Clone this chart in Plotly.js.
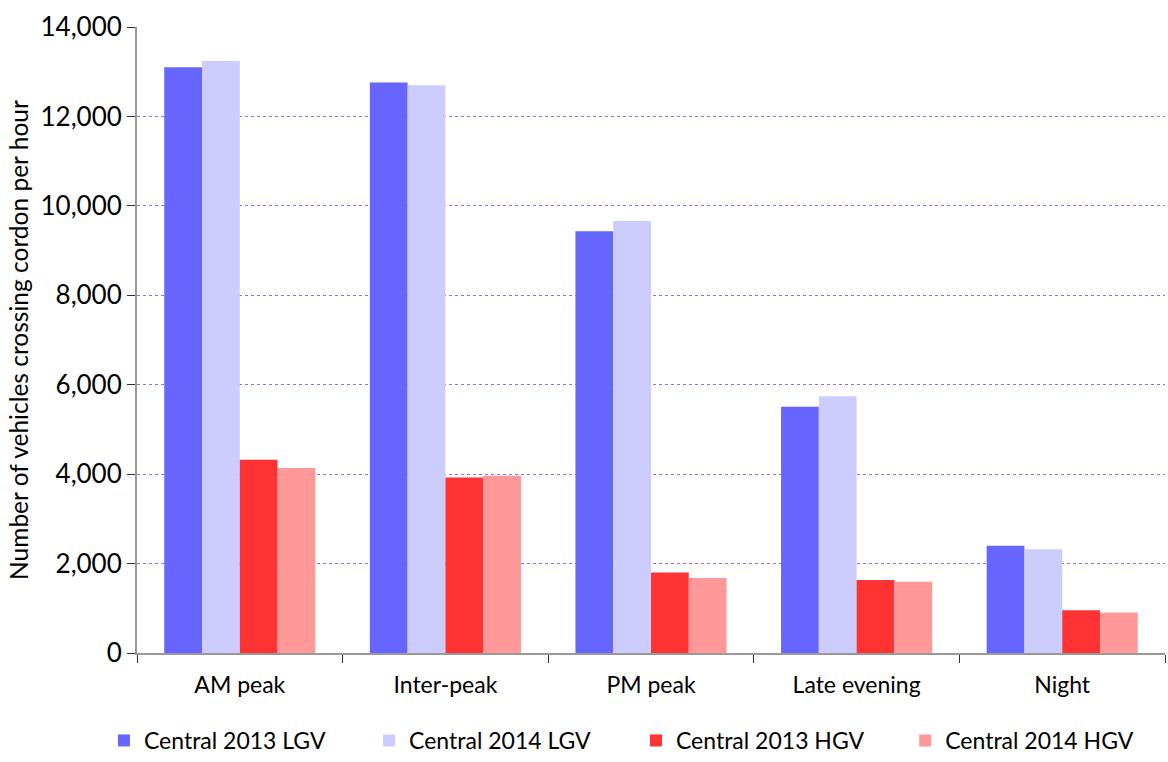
<!DOCTYPE html>
<html>
<head>
<meta charset="utf-8">
<script src="https://cdn.plot.ly/plotly-3.0.1.min.js"></script>
<style>html,body{margin:0;padding:0;background:#fff;}#chart{width:1168px;height:762px;}</style>
</head>
<body>
<div id="chart"></div>
<script>
const categories = ["AM peak", "Inter-peak", "PM peak", "Late evening", "Night"];
const lgv2013 = [13100, 12760, 9430, 5505, 2400];
const lgv2014 = [13240, 12700, 9660, 5740, 2320];
const hgv2013 = [4320, 3925, 1800, 1635, 955];
const hgv2014 = [4140, 3965, 1680, 1595, 905];
const seriesNames = ["Central 2013 LGV", "Central 2014 LGV", "Central 2013 HGV", "Central 2014 HGV"];
const seriesColors = ["#6666ff", "#ccccff", "#ff3333", "#ff9999"];
const seriesValues = [lgv2013, lgv2014, hgv2013, hgv2014];
const yTickVals = [0, 2000, 4000, 6000, 8000, 10000, 12000, 14000];
const yTickText = ["0", "2,000", "4,000", "6,000", "8,000", "10,000", "12,000", "14,000"];

const font = "Lato, 'Open Sans', sans-serif";
const legendIds = ["legend", "legend2", "legend3", "legend4"];
const legendX = [0.089, 0.316, 0.5445, 0.775];

const traces = seriesValues.map((v, i) => ({
  type: "bar",
  name: seriesNames[i],
  x: categories,
  y: v,
  legend: legendIds[i],
  marker: {color: seriesColors[i], line: {width: 0}},
  hoverinfo: "x+y+name"
}));

const layout = {
  width: 1168, height: 762,
  margin: {l: 137, r: 3, t: 27, b: 109},
  paper_bgcolor: "#fff", plot_bgcolor: "#fff",
  font: {family: font, size: 23, color: "#000"},
  barmode: "group",
  bargap: 0.265,
  bargroupgap: 0,
  showlegend: true,
  xaxis: {
    type: "category",
    showline: true, linecolor: "#999", linewidth: 2,
    ticks: "outside", tickson: "boundaries", ticklen: 8, tickcolor: "#333", tickwidth: 1,
    ticklabelstandoff: 10,
    showgrid: false, zeroline: false,
    tickfont: {family: font, size: 23, color: "#000"}
  },
  yaxis: {
    range: [0, 14000],
    tickvals: yTickVals,
    ticktext: yTickText,
    showline: true, linecolor: "#999", linewidth: 2,
    ticks: "outside", ticklen: 8, tickcolor: "#333", tickwidth: 1,
    showgrid: true, gridcolor: "#9966ff", griddash: "dot", gridwidth: 1,
    zeroline: false,
    tickfont: {family: font, size: 26, color: "#000"},
    title: {text: "Number of vehicles crossing cordon per hour", font: {family: font, size: 24.5, color: "#000"}, standoff: 5}
  }
};
legendIds.forEach((id, i) => {
  layout[id] = {
    orientation: "h",
    xref: "container", yref: "container",
    x: legendX[i], xanchor: "left", y: 0, yanchor: "bottom",
    font: {family: font, size: 23, color: "#000"},
    bgcolor: "rgba(0,0,0,0)"
  };
});

Plotly.newPlot("chart", traces, layout, {displayModeBar: false, staticPlot: true});
</script>
</body>
</html>
